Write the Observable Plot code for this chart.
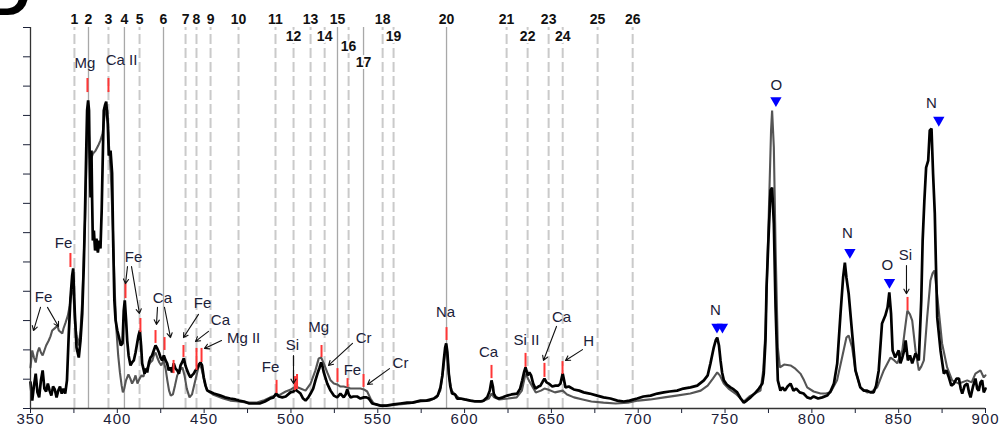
<!DOCTYPE html>
<html><head><meta charset="utf-8">
<script src="https://cdn.jsdelivr.net/npm/d3@7"></script>
<script src="https://cdn.jsdelivr.net/npm/@observablehq/plot@0.6"></script>
<style>
html,body{margin:0;padding:0;background:#fff;}
#chart{width:999px;height:439px;overflow:hidden;}
</style></head><body><div id="chart"></div>
<script>
// spectrum A (black) : [wavelength nm, intensity a.u.]
const spectrumBlack = [[350,0.89],[351,0.27],[352,0.78],[353,1.19],[354,0.55],[355,0.38],[356,0.96],[357,1.30],[358,0.68],[359,0.58],[360,0.85],[361,0.61],[362,0.44],[363,0.75],[364,0.65],[365,0.38],[366,0.61],[367,0.75],[368,0.51],[369,0.68],[370,0.51],[371,0.96],[372,2.49],[373,3.75],[374,4.54],[374.6,4.78],[375.5,3.28],[376.5,2.08],[377.8,1.74],[378.8,2.32],[379.8,3.24],[380.7,4.88],[381.3,6.41],[382.1,8.80],[382.6,10.17],[383.2,10.51],[383.7,10.17],[384,8.80],[384.6,7.20],[385.1,8.80],[385.5,7.10],[385.9,5.73],[386.5,6.07],[387.2,5.39],[388,5.80],[388.8,5.32],[389.6,5.73],[390.3,5.46],[391,6.76],[391.5,8.22],[392.2,10.17],[393,10.37],[393.6,10.47],[394.5,9.72],[395.1,8.63],[396.1,8.80],[397,8.02],[397.6,5.73],[398.3,3.69],[399,3.00],[400,2.66],[401,2.42],[402,2.15],[403,2.22],[403.7,3.34],[404.3,3.69],[405,3.07],[405.7,2.32],[406.5,1.81],[407.6,1.47],[408.5,1.57],[409.5,1.64],[410.5,1.91],[411.4,2.22],[412.2,2.49],[413,2.66],[413.7,2.15],[414.3,1.54],[415.7,1.19],[416.5,1.36],[417.2,1.23],[418.2,1.57],[419.1,1.74],[420,1.81],[421,1.98],[422,2.15],[423,2.05],[424,1.91],[424.9,1.74],[425.8,1.64],[426.8,1.81],[427.8,1.64],[428.7,1.54],[429.6,1.30],[430.6,1.40],[431.5,1.23],[432.5,1.54],[433.5,1.36],[434.5,1.30],[435.5,1.19],[436.4,1.47],[437.3,1.57],[438.3,1.71],[439.2,1.47],[440.2,1.30],[441.2,1.16],[442.1,1.06],[443,1.13],[444,1.19],[445,1.30],[446,1.36],[447,1.50],[447.9,1.57],[448.8,1.47],[449.8,1.06],[450.8,0.78],[451.8,0.61],[453,0.58],[455.6,0.51],[457.5,0.48],[459.4,0.44],[462,0.38],[465,0.34],[468,0.31],[470,0.27],[473,0.24],[476,0.17],[479,0.17],[482,0.17],[485,0.24],[488,0.34],[490,0.38],[491.5,0.51],[493,0.41],[495,0.38],[497,0.41],[499.7,0.55],[501.5,0.58],[502.6,0.65],[504,0.58],[505.5,0.51],[507,0.34],[508.4,0.27],[510,0.38],[511.3,0.51],[512.8,0.68],[514.1,0.96],[515.5,1.23],[516.5,1.40],[517.4,1.57],[518.2,1.43],[518.9,1.23],[520,1.02],[520.9,0.85],[522.8,0.61],[524.7,0.44],[526.6,0.38],[528.5,0.51],[530.4,0.38],[531.5,0.48],[532.4,0.65],[533.3,0.48],[534.3,0.38],[536,0.41],[538.1,0.41],[540,0.34],[542,0.38],[543.5,0.38],[544.8,0.34],[546.8,0.17],[549,0.14],[551.6,0.10],[555,0.10],[559.2,0.14],[563,0.17],[566.9,0.20],[570,0.20],[574.6,0.27],[578,0.27],[582.3,0.34],[584.5,0.44],[586.1,0.72],[587.2,1.13],[588,1.64],[588.8,2.08],[589.4,2.22],[590.1,1.91],[590.9,1.19],[591.8,0.75],[592.8,0.51],[594.5,0.48],[595.7,0.34],[597.6,0.34],[600,0.31],[603.4,0.27],[606,0.24],[609.2,0.24],[611,0.27],[613,0.38],[614.5,0.61],[615.5,0.96],[616.3,0.75],[616.8,0.51],[618,0.38],[619.7,0.34],[622,0.38],[624.5,0.44],[627,0.48],[630.3,0.51],[632,0.68],[633.2,0.96],[634.2,1.23],[635.1,1.40],[636.4,1.13],[637.3,1.23],[638.3,1.13],[639.5,0.85],[640.8,0.68],[642.5,0.75],[643.7,0.78],[645,0.92],[646,1.02],[647.2,0.89],[648.5,0.85],[650.5,0.75],[652.3,0.78],[654,0.78],[655.2,0.85],[656.5,1.19],[657.3,0.96],[658.1,0.72],[660,0.75],[662.9,0.65],[666,0.61],[668.6,0.55],[672,0.51],[676.3,0.44],[680,0.38],[684,0.34],[688,0.27],[691.7,0.24],[695,0.27],[699.4,0.34],[703,0.41],[707.1,0.44],[711,0.51],[714.7,0.55],[718,0.58],[722.4,0.61],[726,0.68],[730.1,0.72],[734,0.78],[737.8,0.96],[740,1.13],[741.6,1.54],[743.5,2.08],[744.6,2.32],[745.5,2.42],[746.5,2.15],[747.4,1.64],[748.3,1.23],[749.3,0.96],[751,0.82],[753.1,0.72],[755,0.65],[757,0.55],[759,0.34],[760.8,0.20],[762.5,0.27],[764.7,0.38],[767,0.51],[769.5,0.68],[771.5,0.85],[772.3,1.19],[773.3,2.32],[773.9,4.13],[775.2,6.07],[776.2,7.44],[777.1,7.54],[778.1,6.31],[779.1,3.45],[780.4,0.96],[781.9,0.61],[783,0.72],[784.5,0.61],[786,0.75],[787.7,0.85],[789.4,0.61],[791,0.68],[793,0.55],[795.2,0.51],[797.3,0.38],[799.2,0.34],[801,0.41],[803.6,0.34],[806,0.38],[808.8,0.44],[810.7,0.58],[812.7,0.85],[814.6,1.54],[816.5,3.24],[818,4.47],[819,4.98],[819.9,4.47],[821.2,3.92],[823.2,2.56],[825.1,1.30],[827.9,0.72],[829.8,0.61],[831.8,0.61],[833.7,0.55],[835.6,0.55],[837,0.78],[838.5,1.30],[840.4,2.90],[842.3,3.17],[843.6,3.45],[844.6,3.96],[845.6,3.24],[846.5,1.98],[848,1.74],[850,1.98],[851,1.54],[852.1,1.74],[853.2,1.98],[854,2.32],[855.3,1.64],[856.5,1.81],[857.8,1.54],[859.7,1.88],[861.6,1.64],[863,3.69],[863.8,5.73],[864.8,7.10],[865.8,8.22],[867,8.46],[867.9,9.49],[868.9,9.55],[869.8,8.02],[870.8,6.65],[871.4,5.05],[872.2,3.10],[874.1,1.98],[876,1.19],[877.5,1.30],[878.9,1.06],[880.3,0.78],[881.8,0.85],[883.3,1.02],[884.7,1.02],[885.7,0.68],[886.6,0.51],[888,0.78],[889.5,0.85],[890.5,0.55],[891.4,0.38],[892.8,0.75],[894.2,1.02],[895.2,0.68],[896.1,0.61],[897.1,0.89],[898.1,0.96],[899,0.55],[900,0.68]];

// spectrum B (grey)
const spectrumGrey = [[350,1.40],[351,1.98],[352,1.74],[353,1.57],[354,1.91],[355,2.08],[356,1.91],[357,1.81],[358,1.98],[359,2.15],[360.5,2.32],[361.5,2.46],[362.5,2.66],[364.4,2.76],[365.5,2.83],[366.3,2.66],[368.3,2.56],[369,2.73],[370.2,2.93],[371.5,3.17],[372.6,3.51],[373.6,3.96],[374.6,4.03],[375.5,3.07],[376.5,2.49],[377.8,2.15],[378.8,2.66],[379.8,3.69],[380.7,5.22],[381.5,6.59],[382.3,8.80],[383,9.89],[383.5,9.66],[384.2,8.53],[385,8.53],[386,8.70],[387.5,8.80],[389,8.97],[390.3,9.15],[391.5,9.38],[392.5,9.89],[393.5,10.27],[394.3,10.17],[395.2,8.97],[396.3,7.95],[397.5,6.07],[398.5,4.03],[399.5,2.66],[400.5,1.81],[401.5,1.23],[402.5,0.78],[403.2,0.55],[404,0.68],[405,0.96],[406.4,1.16],[407.5,1.02],[408.5,0.85],[409.5,0.96],[410.5,1.13],[411.6,0.85],[412.8,1.02],[414,1.13],[415,1.09],[416.2,1.30],[417.5,1.40],[419,1.57],[420.2,1.64],[421,1.81],[422,1.91],[423,1.74],[424.2,1.57],[425.3,1.47],[426.6,1.64],[427.8,1.36],[428.8,0.96],[429.8,0.61],[430.8,0.44],[432,0.48],[433.2,0.78],[434.5,1.13],[436,1.30],[437.5,1.40],[438.7,1.13],[440,0.68],[441.6,0.38],[443,0.48],[444.5,0.85],[446,1.23],[447.3,1.54],[448.5,1.36],[450,0.96],[451.3,0.68],[452.5,0.58],[455,0.48],[458,0.41],[461,0.34],[465,0.27],[470,0.24],[475,0.20],[480,0.20],[484,0.27],[488,0.38],[491,0.44],[494,0.48],[497,0.58],[500,0.65],[502.6,0.75],[505.5,0.68],[508.4,0.61],[511.3,0.85],[514.1,1.30],[516,1.71],[517.4,1.74],[518.9,1.54],[520.9,1.23],[522.8,0.96],[524.7,0.85],[526.6,0.82],[528.5,0.75],[530.4,0.75],[532.4,0.72],[534.3,0.68],[536,0.68],[538,0.68],[540,0.68],[542,0.65],[543.9,0.58],[545.8,0.34],[547.7,0.17],[551,0.10],[556,0.10],[562,0.14],[568,0.17],[574,0.24],[580,0.27],[584,0.38],[586,0.61],[587.5,1.23],[588.8,1.91],[589.5,2.05],[590.3,1.64],[591.2,1.02],[592.5,0.61],[594,0.51],[597,0.34],[603,0.27],[610,0.24],[614,0.34],[615.5,0.51],[617,0.38],[620,0.31],[625,0.34],[630,0.38],[633,0.61],[635.1,1.19],[637,0.96],[639,0.75],[641,0.55],[644,0.61],[646,0.68],[648,0.65],[652,0.55],[656.5,0.61],[659,0.48],[663,0.38],[668,0.31],[673,0.24],[680,0.20],[687,0.17],[694,0.20],[700,0.27],[707,0.31],[715,0.38],[722,0.44],[730,0.51],[736,0.61],[740,0.78],[743,1.02],[745.5,1.23],[747,1.13],[749.3,0.85],[752,0.68],[756,0.51],[760.8,0.24],[764,0.41],[767,0.51],[770.4,0.61],[772,1.30],[773.3,2.66],[775.2,6.65],[776.5,9.49],[777.1,10.17],[778.1,8.91],[779.1,5.49],[780.4,2.08],[781.6,1.40],[784,1.50],[787.7,1.47],[790.5,1.36],[793.4,1.19],[795.5,0.96],[797.3,0.72],[801,0.58],[805,0.51],[808,0.51],[810.7,0.55],[814.5,0.96],[817.4,1.74],[819.9,2.42],[821.2,2.49],[823.2,2.08],[825.1,1.30],[827.9,0.72],[831.8,0.55],[834.5,0.58],[837.6,0.72],[841.4,1.30],[845.3,1.74],[847.5,1.64],[849.2,1.54],[852.1,1.98],[853.5,2.66],[855,3.34],[856.5,3.21],[857.8,3.00],[859.7,1.98],[861.6,1.30],[863,1.43],[864.5,1.64],[866.4,3.10],[868.3,4.37],[869.5,4.61],[870.6,4.71],[872.5,3.69],[875,2.22],[877.9,1.40],[880.8,0.96],[884.7,0.85],[889.5,0.96],[892,0.89],[894.2,1.19],[897.1,1.30],[899,1.06],[900,1.13]];

// numbered reference lines
const lineIds = [1,2,3,4,5,6,7,8,9,10,11,12,13,14,15,16,17,18,19,20,21,22,23,24,25,26];
const lineNm = [375.3,383.4,394.9,404.1,412.8,426.6,439.3,445.6,453.7,469.8,491.1,501.5,511.3,519.4,526.8,533.2,541.8,552.8,559.1,589.6,624.2,636.3,648.4,656.5,676.6,696.8];
const solidLineIds = [2,4,6,15,17,20];

// element labels
const elText = ["Fe","Fe","Mg","Ca II","Fe","Ca","Fe","Ca","Mg II","Fe","Si","Mg","Cr","Fe","Cr","Na","Ca","Si II","Ca","H","N","O","N","O","Si","N"];
const elNm = [357.5,369.0,381.4,402.4,409.3,426.0,449.1,459.4,472.7,488.2,500.9,515.9,541.8,535.4,563.1,589.0,613.8,635.6,655.8,671.4,744.5,779.6,820.5,843.5,853.9,868.9];
const elVal = [3.79,5.63,11.77,11.87,5.15,3.75,3.58,3.00,2.39,1.40,2.15,2.76,2.39,1.30,1.54,3.28,1.91,2.32,3.10,2.29,3.34,11.02,5.97,4.88,5.22,10.41];

// red line markers [nm, low, high]
const redMarks = [[373.0,4.81,5.29],[382.8,10.78,11.26],[394.9,10.78,11.26],[404.7,3.75,4.26],[413.3,2.59,3.07],[422.0,2.22,2.66],[427.2,1.98,2.42],[432.4,1.19,1.64],[438.1,1.74,2.15],[445.6,1.30,2.05],[448.5,1.57,2.05],[491.7,0.51,0.96],[502.3,0.61,1.09],[503.5,0.65,1.16],[517.6,1.74,2.15],[526.8,0.89,1.36],[532.6,0.72,1.02],[541.8,0.72,1.16],[589.6,2.32,2.76],[615.5,1.02,1.47],[635.1,1.40,1.88],[646.0,1.06,1.54],[656.4,1.16,1.60],[855.1,3.34,3.79]];

// arrows [x1, y1, x2, y2]
const arrowSegs = [[355.76,3.45,351.73,2.66],[359.79,3.45,366.13,2.80],[405.86,4.84,404.71,4.26],[408.17,4.84,412.77,3.24],[423.14,3.45,422.56,2.87],[427.17,3.45,430.63,2.42],[446.75,3.21,438.11,2.42],[452.51,2.63,445.02,2.29],[460.0,2.32,450.21,2.05],[501.46,1.81,501.46,0.85],[535.44,2.22,521.62,1.47],[556.75,1.36,544.08,0.82],[652.93,2.80,645.44,1.64],[667.90,2.01,658.11,1.64],[854.49,4.88,854.49,3.92]];

// blue triangle markers (O, N lines) [nm, value]
const triMarks = [[745.35,2.78],[748.5,2.78],[779.3,10.51],[821.9,5.33],[844.7,4.31],[873.1,9.84]];

const xTicks = d3.range(350, 901, 25);
const yTicks = d3.range(0, 14, 1);

const FONT = "'Liberation Sans', Arial, sans-serif";
const INK = "#1b2138";

const dashedNm = lineNm.filter((d, i) => !solidLineIds.includes(lineIds[i]));
const solidNm = lineNm.filter((d, i) => solidLineIds.includes(lineIds[i]));
const rowOf = {12: 1, 14: 1, 19: 1, 22: 1, 24: 1, 16: 2, 17: 3};
const rowDy = [-13, 4, 14, 30];
const labelsByRow = [0,1,2,3].map(r => lineIds.map((id, i) => ({id, nm: lineNm[i]})).filter(d => (rowOf[d.id] || 0) === r));

const chart = Plot.plot({
  width: 999, height: 439,
  marginLeft: 30, marginRight: 14, marginTop: 27, marginBottom: 31,
  x: {domain: [350, 900], axis: null},
  y: {domain: [0, 13], axis: null},
  style: {fontFamily: FONT, color: INK, background: "white", overflow: "visible"},
  marks: [
    Plot.ruleX(dashedNm, {x: d => d, y1: 0, y2: 13, stroke: "#cacaca", strokeWidth: 2, strokeDasharray: "10,4"}),
    Plot.ruleX(solidNm, {x: d => d, y1: 0, y2: 13, stroke: "#a8a8a8", strokeWidth: 1.3}),
    Plot.line(spectrumGrey, {x: d => d[0], y: d => d[1], stroke: "#555", strokeWidth: 2.1, strokeLinejoin: "miter"}),
    Plot.line(spectrumBlack, {x: d => d[0], y: d => d[1], stroke: "#000", strokeWidth: 2.7, strokeLinejoin: "miter"}),
    Plot.ruleX(redMarks, {x: d => d[0], y1: d => d[1], y2: d => d[2], stroke: "#ff3636", strokeWidth: 2}),
    Plot.arrow(arrowSegs, {x1: d => d[0], y1: d => d[1], x2: d => d[2], y2: d => d[3], stroke: "#111", strokeWidth: 1.1, headLength: 7}),
    Plot.dot(triMarks, {x: d => d[0], y: d => d[1], symbol: "triangle", rotate: 180, r: 4.2, fill: "#0000ff", stroke: null}),
    Plot.text(elText, {x: elNm, y: elVal, text: elText, fontSize: 15, fill: INK}),
    ...labelsByRow.map((rows, r) => Plot.text(rows, {x: "nm", text: d => String(d.id), frameAnchor: "top", dy: rowDy[r], fontSize: 14, fontWeight: "bold", fill: "#111", stroke: "white", strokeWidth: 4})),
    Plot.axisX({ticks: xTicks, tickFormat: d => d % 50 === 0 ? String(d) : "", tickSize: 5, tickPadding: 0, fontSize: 15, label: null, anchor: "bottom"}),
    Plot.axisY({ticks: yTicks, tickFormat: () => "", tickSize: 7, label: null, anchor: "left"}),
    Plot.ruleY([0], {stroke: "#333", strokeWidth: 1.3}),
    Plot.ruleX([350], {y1: 0, y2: 13, stroke: "#333", strokeWidth: 1.3})
  ]
});

d3.select(chart).selectAll("g[aria-label='x-axis tick label'] text").attr("letter-spacing", "1");
d3.select(chart).append("text")
  .attr("x", 9).attr("y", 15)
  .attr("font-size", 60).attr("font-weight", "bold").attr("font-family", FONT)
  .attr("fill", "#000").text("D");

document.getElementById("chart").appendChild(chart);
</script>
</body></html>
